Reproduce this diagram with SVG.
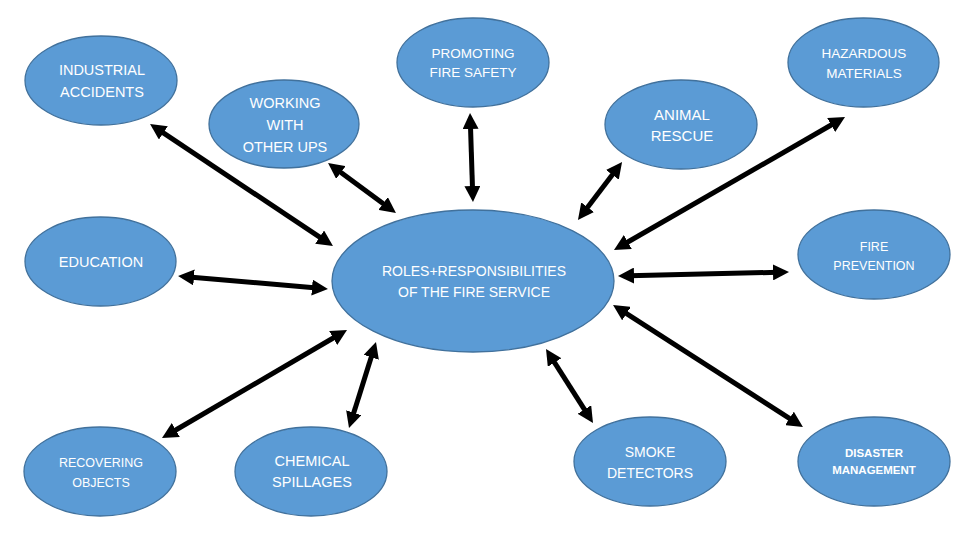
<svg xmlns="http://www.w3.org/2000/svg" width="960" height="540" viewBox="0 0 960 540">
<defs>
<style>
.n{fill:#5B9BD5;stroke:#41719C;stroke-width:1.3}
.t{fill:#fff;font-family:"Liberation Sans",Arial,sans-serif;font-size:14.5px;text-anchor:middle}
.c line{stroke:#000;stroke-width:5;marker-start:url(#ah);marker-end:url(#ah)}
</style>
<marker id="ah" markerUnits="userSpaceOnUse" markerWidth="18" markerHeight="16" refX="5" refY="8" orient="auto-start-reverse">
<path d="M0,0 L16,8 L0,16 z" fill="#000"/>
</marker>
</defs>
<rect width="960" height="540" fill="#fff"/>
<g id="connectors" class="c">
<line x1="159.2" y1="130.1" x2="323.8" y2="239.9"/>
<line x1="336.9" y1="169.5" x2="387.1" y2="206.5"/>
<line x1="470.4" y1="124" x2="472.6" y2="191"/>
<line x1="615.4" y1="170.8" x2="584.6" y2="211.2"/>
<line x1="835.5" y1="122.5" x2="623.5" y2="244.5"/>
<line x1="189" y1="277" x2="317" y2="288"/>
<line x1="629" y1="275.7" x2="778" y2="272.3"/>
<line x1="171.5" y1="432.5" x2="337.5" y2="335.5"/>
<line x1="372.7" y1="352.5" x2="352.3" y2="417.5"/>
<line x1="551.9" y1="358.3" x2="587.1" y2="413.7"/>
<line x1="622.3" y1="310.9" x2="793.7" y2="421.1"/>
</g>
<g id="center">
<ellipse class="n" cx="473" cy="281" rx="141" ry="71"/>
<text class="t" x="474" y="276" style="font-size:14px">ROLES+RESPONSIBILITIES</text>
<text class="t" x="474" y="297" style="font-size:14px">OF THE FIRE SERVICE</text>
</g>
<g id="industrial">
<ellipse class="n" cx="101" cy="80.5" rx="76" ry="44.5"/>
<text class="t" x="102" y="75">INDUSTRIAL</text>
<text class="t" x="102" y="97">ACCIDENTS</text>
</g>
<g id="working">
<ellipse class="n" cx="284" cy="124" rx="75" ry="44"/>
<text class="t" x="285" y="108">WORKING</text>
<text class="t" x="285" y="130">WITH</text>
<text class="t" x="285" y="152">OTHER UPS</text>
</g>
<g id="promoting">
<ellipse class="n" cx="473" cy="62.5" rx="76" ry="44.5"/>
<text class="t" x="473" y="58" style="font-size:13.5px">PROMOTING</text>
<text class="t" x="473" y="77" style="font-size:13.5px">FIRE SAFETY</text>
</g>
<g id="animal">
<ellipse class="n" cx="681" cy="124.5" rx="76" ry="44.5"/>
<text class="t" x="682" y="120" style="font-size:15px">ANIMAL</text>
<text class="t" x="682" y="141" style="font-size:15px">RESCUE</text>
</g>
<g id="hazardous">
<ellipse class="n" cx="863.5" cy="62.5" rx="75.5" ry="44.5"/>
<text class="t" x="864" y="58" style="font-size:13.5px">HAZARDOUS</text>
<text class="t" x="864" y="78" style="font-size:13.5px">MATERIALS</text>
</g>
<g id="education">
<ellipse class="n" cx="100.5" cy="261.5" rx="75.5" ry="44.5"/>
<text class="t" x="101" y="267">EDUCATION</text>
</g>
<g id="fireprevention">
<ellipse class="n" cx="874" cy="254.5" rx="76" ry="44.5"/>
<text class="t" x="874" y="251" style="font-size:12.5px">FIRE</text>
<text class="t" x="874" y="270" style="font-size:12.5px">PREVENTION</text>
</g>
<g id="recovering">
<ellipse class="n" cx="100" cy="471.5" rx="76" ry="44.5"/>
<text class="t" x="101" y="466.5" style="font-size:12.5px">RECOVERING</text>
<text class="t" x="101" y="486.5" style="font-size:12.5px">OBJECTS</text>
</g>
<g id="chemical">
<ellipse class="n" cx="311" cy="471.5" rx="76" ry="44.5"/>
<text class="t" x="312" y="466">CHEMICAL</text>
<text class="t" x="312" y="487">SPILLAGES</text>
</g>
<g id="smoke">
<ellipse class="n" cx="650" cy="461.5" rx="76" ry="44.5"/>
<text class="t" x="650" y="457" style="font-size:14px">SMOKE</text>
<text class="t" x="650" y="478" style="font-size:14px">DETECTORS</text>
</g>
<g id="disaster">
<ellipse class="n" cx="874" cy="461.5" rx="76" ry="44.5"/>
<text class="t" x="874" y="457" style="font-size:11.5px;font-weight:bold">DISASTER</text>
<text class="t" x="874" y="474" style="font-size:11.5px;font-weight:bold">MANAGEMENT</text>
</g>
</svg>
